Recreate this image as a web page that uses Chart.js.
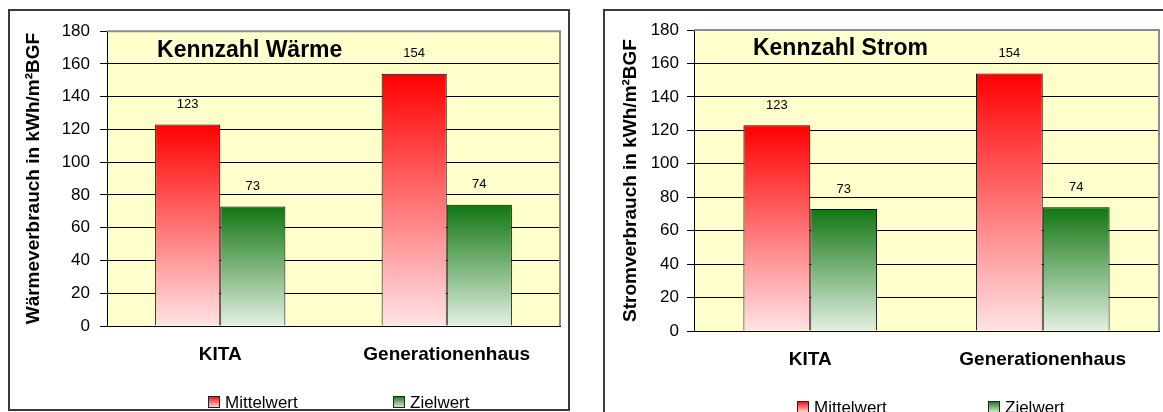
<!DOCTYPE html>
<html>
<head>
<meta charset="utf-8">
<script src="https://cdn.jsdelivr.net/npm/chart.js@4.4.1/dist/chart.umd.min.js"></script>
<style>
  html, body { margin: 0; padding: 0; background: #fff; overflow: hidden; width: 1163px; height: 412px; }
  .frame { position: absolute; border: 2px solid #3a3a3a; box-sizing: border-box; background: #fff; }
  #frameWaerme { left: 8px; top: 9px; width: 562px; height: 402px; }
  #frameStrom { left: 603px; top: 9px; width: 578px; height: 420px; }
  canvas { position: absolute; left: 0; top: 0; }
</style>
</head>
<body>
<div class="frame" id="frameWaerme"><canvas id="waerme" width="558" height="398"></canvas></div>
<div class="frame" id="frameStrom"><canvas id="strom" width="570" height="410"></canvas></div>
<script>
// Categories and series
const categories = ['KITA', 'Generationenhaus'];
const seriesNames = ['Mittelwert', 'Zielwert'];

// Heat consumption (kWh/m²BGF)
const waermeMittelwert = [123, 154];
const waermeZielwert = [73, 74];

// Electricity consumption (kWh/m²BGF)
const stromMittelwert = [123, 154];
const stromZielwert = [73, 74];

// Value axis
const Y_MIN = 0;
const Y_MAX = 180;
const Y_STEP = 20;

const FONT = '"Liberation Sans", Arial, Helvetica, sans-serif';
Chart.defaults.font.family = FONT;
Chart.defaults.color = '#000';

const RED_STOPS = ['#ff0000', '#ffe3e6'];
const GREEN_STOPS = ['#127612', '#e3f0e3'];

// Vertical gradient spanning each bar from its top down to the zero line
function barGradient(stops) {
  return (ctx) => {
    const chart = ctx.chart;
    if (!chart.chartArea || ctx.type !== 'data') return stops[0];
    const y = chart.scales.y;
    const top = y.getPixelForValue(ctx.raw);
    const base = y.getPixelForValue(0);
    const g = chart.ctx.createLinearGradient(0, top, 0, base);
    g.addColorStop(0, stops[0]);
    g.addColorStop(1, stops[1]);
    return g;
  };
}

// Plot background, frame, inner title, value labels and the legend row
const plotDecor = {
  id: 'plotDecor',
  beforeDraw(chart) {
    const a = chart.chartArea;
    const c = chart.ctx;
    c.save();
    c.fillStyle = '#ffffcc';
    c.fillRect(a.left, a.top, a.right - a.left, a.bottom - a.top);
    c.restore();
  },
  afterDatasetsDraw(chart) {
    const c = chart.ctx;
    c.save();
    c.font = '13px ' + FONT;
    c.fillStyle = '#000';
    c.textAlign = 'center';
    c.textBaseline = 'middle';
    chart.data.datasets.forEach((ds, di) => {
      const meta = chart.getDatasetMeta(di);
      meta.data.forEach((el, i) => {
        c.fillText(String(ds.data[i]), el.x, el.y - 20);
      });
    });
    c.restore();
  },
  afterDraw(chart, args, opts) {
    const a = chart.chartArea;
    const w = a.right - a.left;
    const c = chart.ctx;
    c.save();
    // grey frame on the open sides of the plot area
    c.strokeStyle = '#8c8c8c';
    c.lineWidth = 2;
    c.beginPath();
    c.moveTo(a.left, a.top);
    c.lineTo(a.right, a.top);
    c.lineTo(a.right, a.bottom);
    c.stroke();

    // inner title
    c.font = 'bold 23px ' + FONT;
    c.fillStyle = '#000';
    c.textAlign = 'center';
    c.textBaseline = 'middle';
    c.fillText(opts.title, a.left + w * 0.315, a.top + 19);

    // legend
    const ly = a.bottom + opts.legendOffset;
    c.font = '17px ' + FONT;
    c.textAlign = 'left';
    chart.data.datasets.forEach((ds, i) => {
      const bx = Math.round(a.left + w * opts.legendPos[i]);
      const by = Math.round(ly - 6);
      const g = c.createLinearGradient(0, by, 0, by + 12);
      g.addColorStop(0, ds.stops[0]);
      g.addColorStop(1, ds.stops[1]);
      c.fillStyle = g;
      c.fillRect(bx, by, 12, 12);
      c.strokeStyle = '#222';
      c.lineWidth = 1;
      c.strokeRect(bx + 0.5, by + 0.5, 11, 11);
      c.fillStyle = '#000';
      c.fillText(ds.label, bx + 17, ly + 1);
    });
    c.restore();
  }
};

function makeChart(canvasId, cfg) {
  return new Chart(document.getElementById(canvasId), {
    type: 'bar',
    data: {
      labels: categories,
      datasets: [
        {
          label: seriesNames[0],
          data: cfg.mittel,
          stops: RED_STOPS,
          backgroundColor: barGradient(RED_STOPS),
          borderColor: '#000',
          borderWidth: 1,
          categoryPercentage: 0.575,
          barPercentage: 1
        },
        {
          label: seriesNames[1],
          data: cfg.ziel,
          stops: GREEN_STOPS,
          backgroundColor: barGradient(GREEN_STOPS),
          borderColor: '#000',
          borderWidth: 1,
          categoryPercentage: 0.575,
          barPercentage: 1
        }
      ]
    },
    options: {
      responsive: false,
      animation: false,
      devicePixelRatio: 1,
      layout: { padding: { top: cfg.padTop, right: cfg.padRight, left: 0, bottom: 0 } },
      plugins: {
        legend: { display: false },
        tooltip: { enabled: false },
        plotDecor: { title: cfg.title, legendPos: [0.222, 0.632], legendOffset: 76 }
      },
      scales: {
        x: {
          grid: { display: false, drawTicks: false },
          border: { display: true, color: '#000', width: 1 },
          ticks: { color: '#000', font: { size: 19, weight: 'bold' }, padding: 17, maxRotation: 0 },
          afterFit(scale) { scale.height = cfg.xHeight; }
        },
        y: {
          min: Y_MIN,
          max: Y_MAX,
          ticks: { stepSize: Y_STEP, color: '#000', font: { size: 17 }, padding: cfg.tickPad },
          grid: {
            color: (ctx) => (ctx.tick && ctx.tick.value === Y_MAX ? 'rgba(0,0,0,0)' : '#000'),
            tickColor: '#000',
            tickLength: 7,
            lineWidth: 1
          },
          border: { display: true, color: '#000', width: 1 },
          title: {
            display: true,
            text: cfg.yTitle,
            color: '#000',
            font: { size: 19, weight: 'bold' },
            padding: { top: cfg.titlePad, bottom: 0 }
          },
          afterFit(scale) { scale.width = cfg.yWidth; }
        }
      }
    },
    plugins: [plotDecor]
  });
}

makeChart('waerme', {
  mittel: waermeMittelwert,
  ziel: waermeZielwert,
  title: 'Kennzahl Wärme',
  yTitle: 'Wärmeverbrauch in kWh/m²BGF',
  padTop: 20, padRight: 8, xHeight: 83, yWidth: 97, titlePad: 12, tickPad: 10
});

makeChart('strom', {
  mittel: stromMittelwert,
  ziel: stromZielwert,
  title: 'Kennzahl Strom',
  yTitle: 'Stromverbrauch in kWh/m²BGF',
  padTop: 19, padRight: 16, xHeight: 90, yWidth: 89, titlePad: 14, tickPad: 8
});
</script>
</body>
</html>
